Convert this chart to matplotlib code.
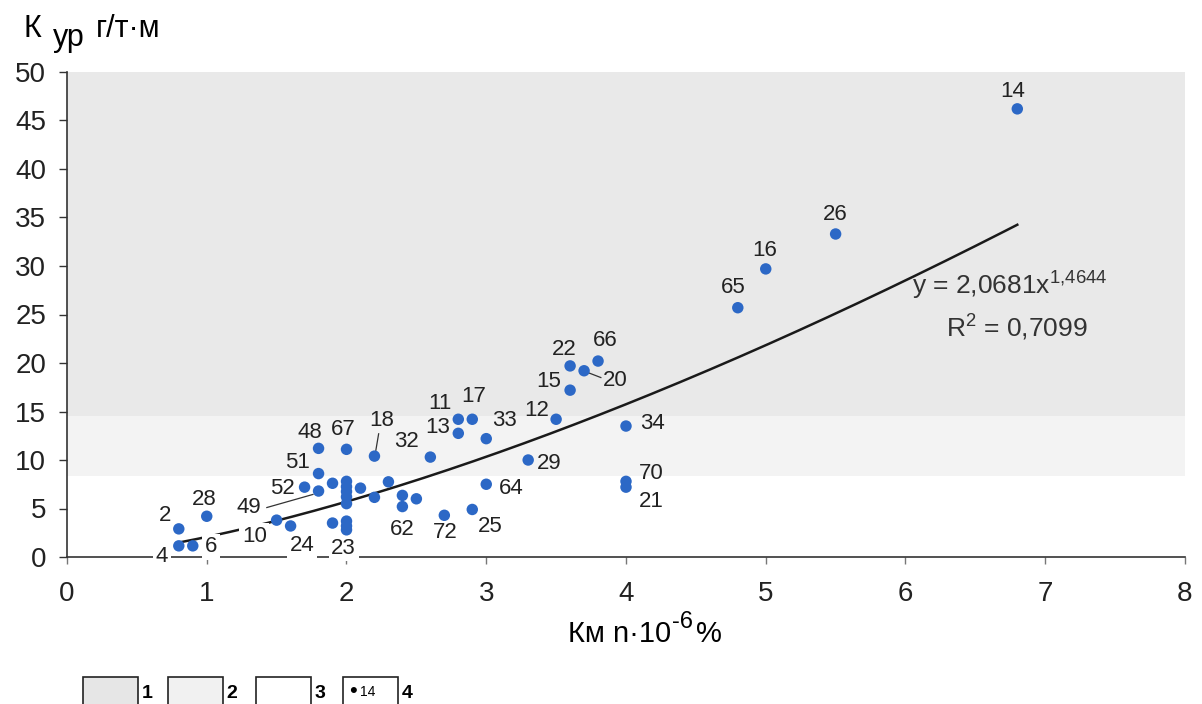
import matplotlib.pyplot as plt
from matplotlib.patches import Rectangle
import numpy as np

plt.rcParams['font.family'] = ['Liberation Sans', 'DejaVu Sans']
plt.rcParams['mathtext.fontset'] = 'custom'
plt.rcParams['mathtext.rm'] = 'Liberation Sans'
plt.rcParams['mathtext.it'] = 'Liberation Sans:italic'

# номера скважин с подписями
well_no = ['2', '4', '6', '28', '10', '24', '49', '52', '51', '48', '67', '18',
           '23', '62', '32', '72', '25', '64', '13', '11', '17', '33', '29', '12',
           '15', '22', '20', '66', '34', '70', '21', '65', '16', '26', '14']
km_lab = [0.8, 0.8, 0.9, 1.0, 1.5, 1.6, 1.8, 1.7, 1.8, 1.8, 2.0, 2.2,
          2.0, 2.4, 2.6, 2.7, 2.9, 3.0, 2.8, 2.8, 2.9, 3.0, 3.3, 3.5,
          3.6, 3.6, 3.7, 3.8, 4.0, 4.0, 4.0, 4.8, 5.0, 5.5, 6.8]
kur_lab = [2.9, 1.15, 1.15, 4.2, 3.8, 3.2, 6.8, 7.2, 8.6, 11.2, 11.1, 10.4,
           2.8, 5.2, 10.3, 4.3, 4.9, 7.5, 12.75, 14.2, 14.2, 12.2, 10.0, 14.2,
           17.2, 19.7, 19.2, 20.2, 13.5, 7.8, 7.2, 25.7, 29.7, 33.3, 46.2]
# точки без подписей
km_other = [1.9, 2.0, 2.0, 1.9, 2.0, 2.0, 2.0, 2.0, 2.0, 2.1, 2.2, 2.3, 2.4, 2.5]
kur_other = [3.5, 3.7, 3.2, 7.6, 7.8, 7.25, 6.75, 6.2, 5.5, 7.1, 6.15, 7.75, 6.35, 6.0]

# где стоят подписи (в единицах осей)
label_xy = {'2': (0.70, 4.3), '4': (0.68, 0.05), '6': (1.03, 1.05), '28': (0.98, 5.95),
            '10': (1.34, 2.1), '24': (1.68, 1.2), '49': (1.30, 5.1), '52': (1.54, 7.1),
            '51': (1.65, 9.7), '48': (1.74, 12.8), '67': (1.98, 13.1), '18': (2.25, 14.1),
            '23': (1.98, 0.9), '62': (2.40, 2.85), '32': (2.43, 11.9), '72': (2.71, 2.5),
            '25': (3.03, 3.15), '64': (3.18, 7.05), '13': (2.65, 13.3), '11': (2.67, 15.8),
            '17': (2.91, 16.5), '33': (3.13, 14.05), '29': (3.45, 9.65), '12': (3.36, 15.15),
            '15': (3.45, 18.1), '22': (3.56, 21.4), '20': (3.92, 18.2), '66': (3.85, 22.3),
            '34': (4.19, 13.8), '70': (4.18, 8.6), '21': (4.18, 5.7), '65': (4.77, 27.8),
            '16': (4.99, 31.6), '26': (5.50, 35.3), '14': (6.77, 48.0)}
# выноски: от подписи к точке
leader = {'49': ((1.43, 5.1), (1.76, 6.45)),
          '18': ((2.23, 12.7), (2.21, 11.0)),
          '20': ((3.73, 19.0), (3.82, 18.5))}
boxed = ['4', '6', '10', '24', '23']

# зоны по К ур
zone_lo = [14.5, 8.3]
zone_hi = [50, 14.5]
zone_col = ['#e9e9e9', '#f3f3f3']

coef_a, coef_b, r2 = 2.0681, 1.4644, 0.7099

fig = plt.figure(figsize=(12.02, 7.04), dpi=100)
ax = fig.add_axes([67 / 1202, 147 / 704, 1118 / 1202, 485 / 704])

for lo, hi, c in zip(zone_lo, zone_hi, zone_col):
    ax.axhspan(lo, hi, color=c, lw=0, zorder=0)

xs = np.linspace(min(km_lab), max(km_lab), 200)
ax.plot(xs, coef_a * xs ** coef_b, color='#1a1a1a', lw=1.8, zorder=2)

ax.scatter(km_lab + km_other, kur_lab + kur_other, s=68, color='#2c68c6',
           edgecolors='none', zorder=4)

for n, px, py in zip(well_no, km_lab, kur_lab):
    tx, ty = label_xy[n]
    kw = {}
    if n in boxed:
        kw['bbox'] = dict(facecolor='white', edgecolor='none', pad=2)
    ax.text(tx, ty, n, fontsize=16, color='#222222', ha='center', va='center',
            zorder=3, **kw)
    if n in leader:
        (x0, y0), (x1, y1) = leader[n]
        ax.plot([x0, x1], [y0, y1], color='#333333', lw=0.9, zorder=3)

ax.text(6.05, 27.9, 'y = 2,0681x$^{1{,}4644}$', fontsize=19, color='#333333',
        ha='left', va='center')
ax.text(6.80, 23.6, 'R$^2$ = 0,7099', fontsize=19, color='#333333',
        ha='center', va='center')

ax.set_xlim(0, 8)
ax.set_ylim(0, 50)
ax.set_xticks(range(0, 9))
ax.set_yticks(range(0, 51, 5))
ax.spines['top'].set_visible(False)
ax.spines['right'].set_visible(False)
for s in ['left', 'bottom']:
    ax.spines[s].set_color('#333333')
    ax.spines[s].set_linewidth(1.2)
ax.tick_params(axis='y', direction='out', length=6, width=1, color='#333333',
               labelsize=20, pad=9, labelcolor='#222222')
ax.tick_params(axis='x', direction='out', length=5, width=1, color='#777777',
               labelsize=20, pad=12, labelcolor='#222222')

# подписи осей
fig.text(24 / 1202, 1 - 37 / 704, 'К', fontsize=22, va='baseline')
fig.text(53 / 1202, 1 - 46 / 704, 'ур', fontsize=22, va='baseline')
fig.text(96 / 1202, 1 - 37 / 704, 'г/т·м', fontsize=22, va='baseline')

# Км n·10^-6 % : части ставим одну за другой
renderer = fig.canvas.get_renderer()
t1 = fig.text(568 / 1202, 1 - 642 / 704, 'Км n·10', fontsize=21, va='baseline')
x_end = t1.get_window_extent(renderer).x1
t2 = fig.text((x_end + 1) / 1202, 1 - 628 / 704, '-6', fontsize=17, va='baseline')
x_end = t2.get_window_extent(renderer).x1
fig.text((x_end + 3) / 1202, 1 - 642 / 704, '%', fontsize=21, va='baseline')

# условные обозначения
leg_x = [83, 168, 256, 343]
leg_fill = ['#e6e6e6', '#f1f1f1', 'white', 'white']
for i, (lx, fc) in enumerate(zip(leg_x, leg_fill)):
    fig.add_artist(Rectangle((lx / 1202, -0.02), 55 / 1202, (704 - 677) / 704 + 0.02,
                             transform=fig.transFigure, facecolor=fc,
                             edgecolor='#222222', lw=1.2))
    fig.text((lx + 64) / 1202, 1 - 698 / 704, str(i + 1), fontsize=14,
             fontweight='bold', ha='center', va='baseline')
fig.text(353 / 1202, 1 - 697 / 704, '•', fontsize=16, ha='center', va='baseline')
fig.text(368 / 1202, 1 - 696 / 704, '14', fontsize=10, ha='center', va='baseline')

fig.savefig('out.png', dpi=100)
